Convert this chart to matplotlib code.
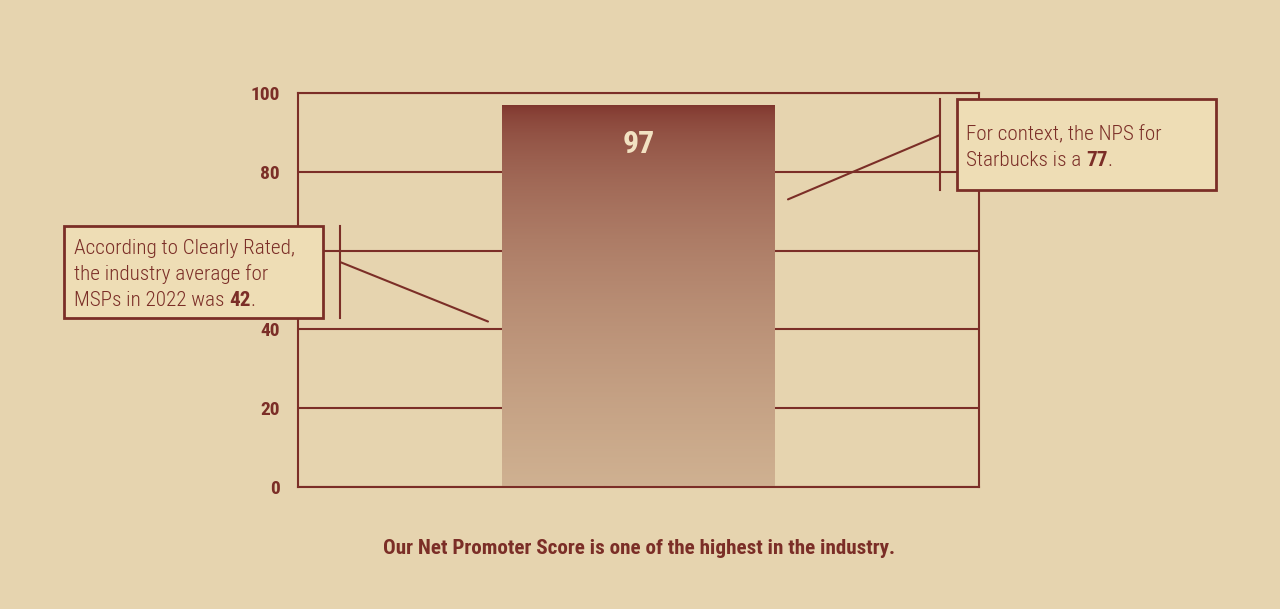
import matplotlib
matplotlib.use("Agg")
import matplotlib.pyplot as plt
import numpy as np
from matplotlib import font_manager
from matplotlib.colors import LinearSegmentedColormap
from matplotlib.patches import Rectangle
from matplotlib.lines import Line2D

# ---- data ----
categories = ["Our NPS"]
values = [97]
industry_avg = 42
starbucks = 77
y_ticks = [0, 20, 40, 60, 80, 100]
title = "Our Net Promoter Score is one of the highest in the industry."

names = {f.name for f in font_manager.fontManager.ttflist}
fam = [n for n in ["Roboto Condensed", "Roboto", "DejaVu Sans"] if n in names]
plt.rcParams['font.family'] = fam

BG = "#E6D4AF"
RED = "#7B2E27"
BOXBG = "#EEDDB5"

fig = plt.figure(figsize=(12.8, 6.09), dpi=100, facecolor=BG)
W, H = 1280, 609
ax = fig.add_axes([298 / W, 1 - 487 / H, (979 - 298) / W, (487 - 93) / H])
ax.set_facecolor(BG)
ax.set_xlim(-0.5, 0.5)
ax.set_ylim(0, 100)
ax.set_yticks(y_ticks)
ax.set_xticks([])
ax.tick_params(axis='y', length=0, pad=13, labelsize=14, colors=RED)
for lab in ax.get_yticklabels():
    lab.set_fontweight('bold')
    lab.set_va('center_baseline')
for s in ax.spines.values():
    s.set_color(RED)
    s.set_linewidth(1.5)
ax.grid(axis='y', color=RED, linewidth=1.5)
ax.set_axisbelow(True)

bars = ax.bar([0], values, width=0.4, color='none', zorder=2)
cmap = LinearSegmentedColormap.from_list("g", ["#CFB191", RED])
grad = np.linspace(0, 1, 400).reshape(-1, 1)
grad = 1 - np.sqrt(1 - grad)  # bottom->top, faster change near top
for b in bars:
    x0, w, h = b.get_x(), b.get_width(), b.get_height()
    im = ax.imshow(grad, extent=[x0, x0 + w, 0, h], origin='lower',
                   cmap=cmap, aspect='auto', zorder=2)
    im.set_clip_path(b)
    ax.text(x0 + w / 2, h - 10, f"{values[0]}", ha='center', va='center',
            color="#F2E2C2", fontsize=23, fontweight='bold', zorder=3)
ax.set_xlim(-0.5, 0.5)
ax.set_ylim(0, 100)

# ---- annotations ----
def px(x, y):
    return (x / W, 1 - y / H)

# left annotation
fig.patches.append(Rectangle(px(64, 318), 259 / W, 92 / H, transform=fig.transFigure,
                             facecolor=BOXBG, edgecolor=RED, linewidth=2, zorder=5))
fig.add_artist(Line2D([340 / W, 340 / W], [1 - 226 / H, 1 - 318 / H], color=RED, lw=1.5,
                      transform=fig.transFigure, zorder=6))
ax.annotate("", xy=(-0.221, industry_avg), xycoords='data',
            xytext=px(340, 262), textcoords='figure fraction',
            arrowprops=dict(arrowstyle='-', color=RED, lw=1.5, shrinkA=0, shrinkB=0),
            zorder=6, annotation_clip=False)

# right annotation
fig.patches.append(Rectangle(px(957, 190), 259 / W, 91 / H, transform=fig.transFigure,
                             facecolor=BOXBG, edgecolor=RED, linewidth=2, zorder=5))
fig.add_artist(Line2D([940 / W, 940 / W], [1 - 99 / H, 1 - 190 / H], color=RED, lw=1.5,
                      transform=fig.transFigure, zorder=6))
ax.annotate("", xy=(0.2195, 73), xycoords='data',
            xytext=px(940, 135), textcoords='figure fraction',
            arrowprops=dict(arrowstyle='-', color=RED, lw=1.5, shrinkA=0, shrinkB=0),
            zorder=6, annotation_clip=False)

# texts with bold numbers
def mixed(x, y, lines, fs=15.2):
    fig.canvas.draw()
    r = fig.canvas.get_renderer()
    yy = y
    for line in lines:
        xx = x
        for txt, bold in line:
            t = fig.text(xx / W, 1 - yy / H, txt, ha='left', va='baseline', fontsize=fs,
                         color=RED, fontweight='bold' if bold else 'light', zorder=7)
            bb = t.get_window_extent(renderer=r)
            xx += bb.width
        yy += 26

mixed(74, 254, [[("According to Clearly Rated,", False)],
                [("the industry average for", False)],
                [("MSPs in 2022 was ", False), (f"{industry_avg}", True), (".", False)]])
mixed(966, 140, [[("For context, the NPS for", False)],
                 [("Starbucks is a ", False), (f"{starbucks}", True), (".", False)]])

fig.text(639 / W, 1 - 548 / H, title, ha='center', va='center', fontsize=15.2,
         color=RED, fontweight='bold')

fig.savefig("out.png", dpi=100, facecolor=BG)
